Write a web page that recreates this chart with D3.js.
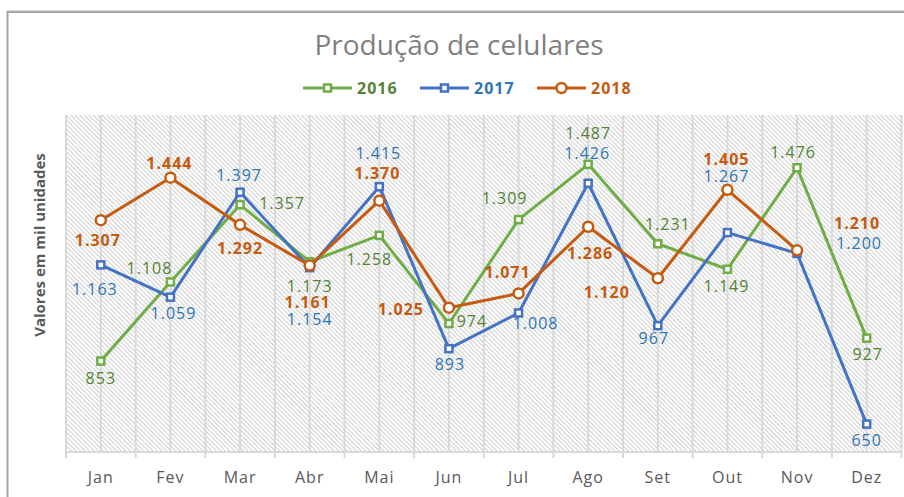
<!DOCTYPE html>
<html>
<head>
<meta charset="utf-8">
<script src="https://cdn.jsdelivr.net/npm/d3@7"></script>
<style>
body { margin: 0; background: #fff; }
text { font-family: "Open Sans", sans-serif; }
</style>
</head>
<body>
<script>
var months = ["Jan", "Fev", "Mar", "Abr", "Mai", "Jun", "Jul", "Ago", "Set", "Out", "Nov", "Dez"];
var years = ["2016", "2017", "2018"];
var v2016 = [853, 1108, 1357, 1173, 1258, 974, 1309, 1487, 1231, 1149, 1476, 927];
var v2017 = [1163, 1059, 1397, 1154, 1415, 893, 1008, 1426, 967, 1267, 1200, 650];
var v2018 = [1307, 1444, 1292, 1161, 1370, 1025, 1071, 1286, 1120, 1405, 1210];

// label offsets (dx, dy) from each point, hand placed like the original
var off2016 = [[0,17],[-21,-14],[42,-1],[0,24],[-10,24],[23,-2],[-14,-21],[0,-31],[10,-20],[-1,17],[-4,-16],[1,16]];
var off2017 = [[-6,24],[3,16],[-1,-17],[0,52],[-1,-33],[1,16],[17,10],[-1,-30],[-4,13],[-1,-56],[62,-10],[0,16]];
var off2018 = [[-3,20],[-1,-14],[0,23],[-2,37],[-2,-27],[-48,2],[-11,-21],[2,27],[-51,14],[-1,-31],[60,-27]];

var series = [
    {name: years[0], values: v2016, off: off2016, line: "#70ad47", label: "#548235", weight: "normal", marker: "square"},
    {name: years[1], values: v2017, off: off2017, line: "#4472c4", label: "#2e75b6", weight: "normal", marker: "square"},
    {name: years[2], values: v2018, off: off2018, line: "#c55a11", label: "#c55a11", weight: "bold", marker: "circle"}
];

var svg = d3.select("body")
    .append("svg")
    .attr("width", 904)
    .attr("height", 497)
    .style("display", "block");

var ptBR = d3.formatLocale({decimal: ",", thousands: ".", grouping: [3], currency: ["R$", ""]});
var fmt = ptBR.format(",d");

var plotL = 66, plotR = 901.5, plotT = 115, plotB = 452;

var x = d3.scaleBand().domain(months).range([plotL, plotR]).padding(0);
var y = d3.scaleLinear().domain([560, 1646]).range([plotB, plotT]);
function cx(i) { return x(months[i]) + x.bandwidth() / 2; }

// chart frame
svg.append("rect")
    .attr("x", 7.5).attr("y", 12)
    .attr("width", 1000).attr("height", 1000)
    .attr("fill", "none")
    .attr("stroke", "#a6a6a6")
    .attr("stroke-width", 2);
svg.append("line")
    .attr("x1", 7).attr("x2", 904).attr("y1", 10.5).attr("y2", 10.5)
    .attr("stroke", "#d9d9d9").attr("stroke-width", 1);

// hatch fill for plot area
var defs = svg.append("defs");
defs.append("pattern")
    .attr("id", "hatch")
    .attr("patternUnits", "userSpaceOnUse")
    .attr("width", 3.2)
    .attr("height", 3.2)
    .attr("patternTransform", "rotate(-45)")
    .append("line")
    .attr("x1", 0.5).attr("x2", 0.5).attr("y1", 0).attr("y2", 3.2)
    .attr("stroke", "#cdcdcd")
    .attr("stroke-width", 1);

svg.append("rect")
    .attr("x", plotL).attr("y", plotT)
    .attr("width", plotR - plotL).attr("height", plotB - plotT)
    .attr("fill", "url(#hatch)");

// gridlines: at category centres and boundaries (boundaries get ticks below axis)
var bounds = months.map(function(m) { return x(m); }).concat([plotR]);
svg.append("g").selectAll("line")
    .data(months)
    .enter().append("line")
    .attr("x1", function(d, i) { return cx(i); })
    .attr("x2", function(d, i) { return cx(i); })
    .attr("y1", plotT).attr("y2", plotB)
    .attr("stroke", "#d9d9d9").attr("stroke-width", 2);
svg.append("g").selectAll("line")
    .data(bounds)
    .enter().append("line")
    .attr("x1", function(d) { return d; })
    .attr("x2", function(d) { return d; })
    .attr("y1", plotT).attr("y2", plotB + 6)
    .attr("stroke", "#d9d9d9").attr("stroke-width", 2);
svg.append("line")
    .attr("x1", plotL).attr("x2", plotR)
    .attr("y1", plotB).attr("y2", plotB)
    .attr("stroke", "#d9d9d9").attr("stroke-width", 2);

// x axis labels
var xAxis = d3.axisBottom(x).tickSize(0).tickPadding(20);
var ax = svg.append("g")
    .attr("transform", "translate(0," + plotB + ")")
    .call(xAxis);
ax.select(".domain").remove();
ax.selectAll("text")
    .style("font-family", "'Open Sans', sans-serif")
    .style("font-size", "16px")
    .style("letter-spacing", "1px")
    .attr("fill", "#595959");

// lines and markers
var line = d3.line()
    .x(function(d, i) { return cx(i); })
    .y(function(d) { return y(d); });

series.forEach(function(s) {
    var g = svg.append("g");
    g.append("path")
        .datum(s.values)
        .attr("d", line)
        .attr("fill", "none")
        .attr("stroke", s.line)
        .attr("stroke-width", 3)
        .attr("stroke-linejoin", "round");
    if (s.marker == "circle") {
        g.selectAll("circle")
            .data(s.values)
            .enter().append("circle")
            .attr("cx", function(d, i) { return cx(i); })
            .attr("cy", function(d) { return y(d); })
            .attr("r", 5)
            .attr("fill", "#fff")
            .attr("stroke", s.line)
            .attr("stroke-width", 2.5);
    } else {
        g.selectAll("rect")
            .data(s.values)
            .enter().append("rect")
            .attr("x", function(d, i) { return cx(i) - 3.5; })
            .attr("y", function(d) { return y(d) - 3.5; })
            .attr("width", 7)
            .attr("height", 7)
            .attr("fill", "#fff")
            .attr("stroke", s.line)
            .attr("stroke-width", 2.5);
    }
});

// data labels
series.forEach(function(s) {
    svg.append("g").selectAll("text")
        .data(s.values)
        .enter().append("text")
        .attr("x", function(d, i) { return cx(i) + s.off[i][0]; })
        .attr("y", function(d, i) { return y(d) + s.off[i][1]; })
        .attr("dy", "0.36em")
        .attr("text-anchor", "middle")
        .style("font-size", "16px")
        .style("letter-spacing", "1px")
        .style("font-weight", s.weight)
        .attr("fill", s.label)
        .text(function(d) { return fmt(d); });
});

// title
svg.append("text")
    .attr("x", 459)
    .attr("y", 55)
    .attr("text-anchor", "middle")
    .style("font-size", "28px")
    .attr("fill", "#7f7f7f")
    .text("Produção de celulares");

// y axis title
svg.append("text")
    .attr("transform", "translate(45,245) rotate(-90)")
    .attr("text-anchor", "middle")
    .style("font-size", "15px")
    .style("font-weight", "bold")
    .attr("fill", "#595959")
    .text("Valores em mil unidades");

// legend
var leg = svg.append("g").attr("transform", "translate(303,88)");
series.forEach(function(s, i) {
    var lg = leg.append("g").attr("transform", "translate(" + (i * 117) + ",0)");
    lg.append("line")
        .attr("x1", 0).attr("x2", 49)
        .attr("stroke", s.line).attr("stroke-width", 3);
    if (s.marker == "circle") {
        lg.append("circle").attr("cx", 24.5).attr("r", 5)
            .attr("fill", "#fff").attr("stroke", s.line).attr("stroke-width", 2.5);
    } else {
        lg.append("rect").attr("x", 21).attr("y", -3.5).attr("width", 7).attr("height", 7)
            .attr("fill", "#fff").attr("stroke", s.line).attr("stroke-width", 2.5);
    }
    lg.append("text")
        .attr("x", 54)
        .attr("dy", "0.36em")
        .style("font-size", "16px")
        .style("font-weight", "bold")
        .style("letter-spacing", "1px")
        .attr("fill", s.label)
        .text(s.name);
});
</script>
</body>
</html>
